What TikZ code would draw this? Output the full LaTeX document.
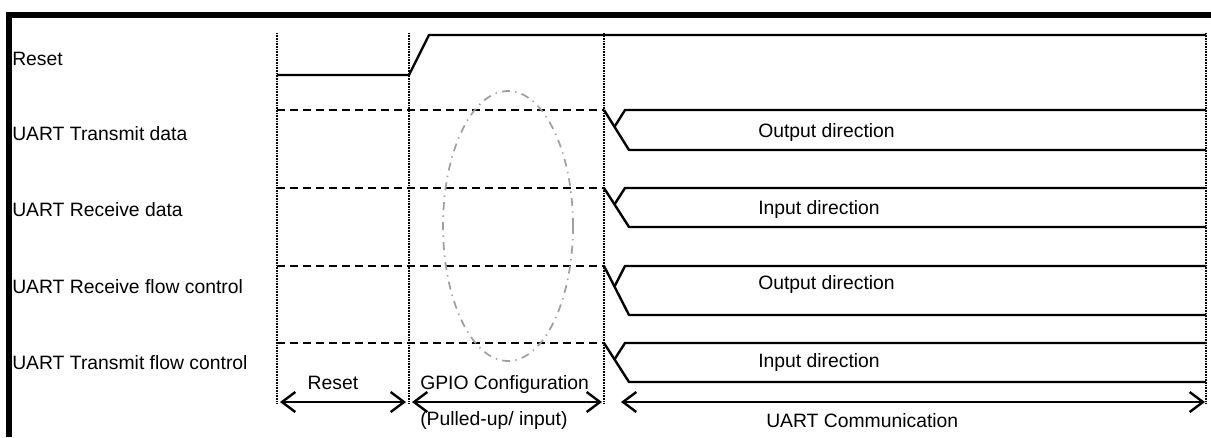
\documentclass[tikz,border=0pt]{standalone}
\usepackage{fontspec}
\setmainfont{Liberation Sans}
\usetikzlibrary{arrows.meta, positioning, calc}

\tikzset{
	sig/.style={line width=1.8pt, line join=round},
	idle/.style={line width=1.4pt, dash pattern=on 6pt off 3.75pt},
	timeline/.style={line width=1.2pt, dash pattern=on 0.6pt off 0.6pt},
	halo/.style={line width=1.3pt, gray!75, dash pattern=on 6pt off 4pt on 1pt off 4pt},
	span/.style={line width=1.8pt, {Straight Barb[length=10pt,width=15pt]}-{Straight Barb[length=10pt,width=15pt]}},
	lbl/.style={anchor=base west, inner sep=0pt}
}

\begin{document}
\begin{tikzpicture}[x=0.75pt, y=-0.75pt, font=\fontsize{14.5}{17}\selectfont]
		\useasboundingbox (0,0) rectangle (1211,437);
		% frame
		\draw[line width=4.5pt] (9,437) -- (9,15) -- (1211,15);

		% time marks
		\foreach \t/\n in {277/ta, 409/tb, 604/tc, 1206/td} {
			\coordinate (\n top) at (\t,33);
			\coordinate (\n bot) at (\t,404);
			\draw[timeline] (\n top) -- (\n bot);
		}

		% reset line
		\node[lbl] (lReset) at (12,65) {Reset};
		\coordinate (r0) at (277,75);
		\coordinate (r1) at (409,75);
		\coordinate (r2) at (429,35);
		\coordinate (r3) at (1206,35);
		\draw[sig] (r0) -- (r1) -- (r2) -- (r3);

		% uart lines
		\foreach \i/\top/\bot/\base/\inb/\name/\dir in {
			1/110/150/140/137/UART Transmit data/Output direction,
			2/188/227/216/214/UART Receive data/Input direction,
			3/266/315/293/289/UART Receive flow control/Output direction,
			4/343/382/369/367/UART Transmit flow control/Input direction} {
			\node[lbl] (lab\i) at (12,\base) {\name};
			\coordinate (d\i) at (277,\top);
			\coordinate (e\i) at (604,\top);
			\coordinate (f\i) at (629,\bot);
			\coordinate (g\i) at (1206,\bot);
			\coordinate (h\i) at ($(e\i)!0.42!(f\i)$);
			\coordinate (k\i) at (625,\top);
			\coordinate (m\i) at (1206,\top);
			\draw[idle] (d\i) -- (e\i);
			\draw[sig] (e\i) -- (f\i) -- (g\i);
			\draw[sig] (h\i) -- (k\i) -- (m\i);
			\node[lbl] (dir\i) at (758,\inb) {\dir};
		}

		% pulled-up region
		\draw[halo] (508,226) ellipse [x radius=48.75pt, y radius=101.25pt];

		% phases
		\coordinate (p0) at (280,402);
		\coordinate (p1) at (406,402);
		\coordinate (p2) at (412,402);
		\coordinate (p3) at (602,402);
		\coordinate (p4) at (621,402);
		\coordinate (p5) at (1205,402);
		\draw[span] (p0) -- (p1);
		\draw[span] (p2) -- (p3);
		\draw[span] (p4) -- (p5);
		\node[anchor=base, inner sep=0pt] (phReset) at (333,389) {Reset};
		\node[lbl] (phGpio) at (420,389) {GPIO Configuration};
		\node[lbl] (phPull) at (420,425) {(Pulled-up/ input)};
		\node[lbl] (phUart) at (766,427) {UART Communication};
	\end{tikzpicture}
\end{document}
